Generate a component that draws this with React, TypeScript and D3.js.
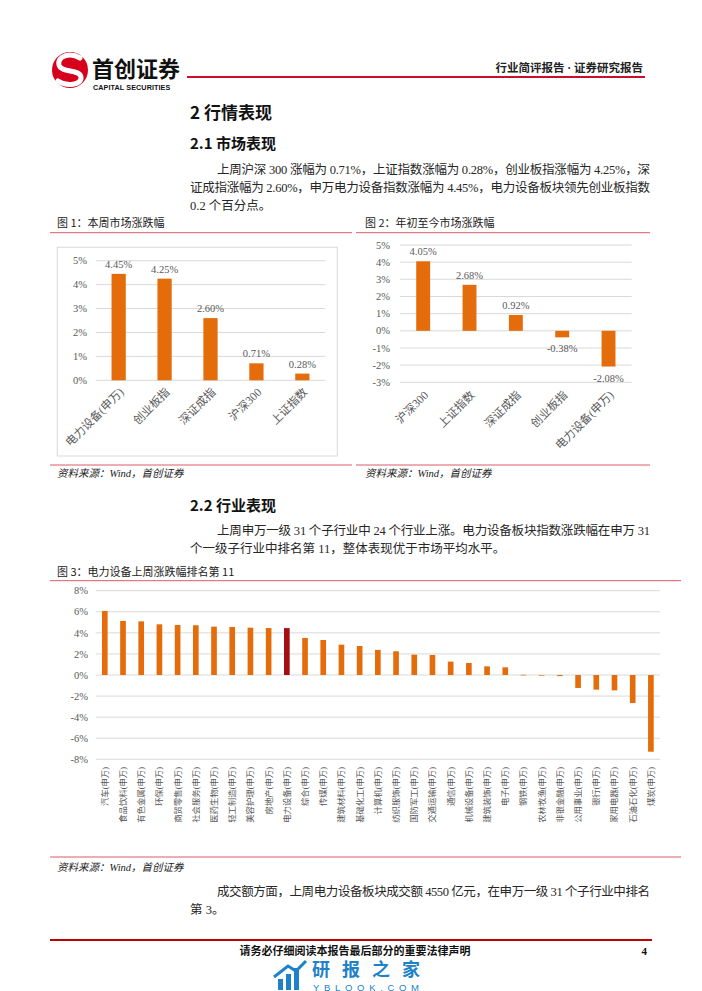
import React from 'react';
import * as d3 from 'd3';

const weekCats = ['电力设备(申万)', '创业板指', '深证成指', '沪深300', '上证指数'];
const weekVals = [4.45, 4.25, 2.6, 0.71, 0.28];
const weekTicks = [0, 1, 2, 3, 4, 5];

const ytdCats = ['沪深300', '上证指数', '深证成指', '创业板指', '电力设备(申万)'];
const ytdVals = [4.05, 2.68, 0.92, -0.38, -2.08];
const ytdTicks = [-3, -2, -1, 0, 1, 2, 3, 4, 5];

const industryNames = [
  '汽车(申万)', '食品饮料(申万)', '有色金属(申万)', '环保(申万)', '商贸零售(申万)', '社会服务(申万)',
  '医药生物(申万)', '轻工制造(申万)', '美容护理(申万)', '房地产(申万)', '电力设备(申万)', '综合(申万)',
  '传媒(申万)', '建筑材料(申万)', '基础化工(申万)', '计算机(申万)', '纺织服饰(申万)', '国防军工(申万)',
  '交通运输(申万)', '通信(申万)', '机械设备(申万)', '建筑装饰(申万)', '电子(申万)', '钢铁(申万)',
  '农林牧渔(申万)', '非银金融(申万)', '公用事业(申万)', '银行(申万)', '家用电器(申万)', '石油石化(申万)',
  '煤炭(申万)'
];
const industryVals = [
  6.08, 5.13, 5.09, 4.81, 4.75, 4.72, 4.59, 4.56, 4.49, 4.46, 4.45, 3.51, 3.32, 2.88, 2.75, 2.38,
  2.25, 1.93, 1.9, 1.27, 1.14, 0.82, 0.73, 0.02, -0.05, -0.1, -1.23, -1.39, -1.46, -2.66, -7.28
];
const industryTicks = [-8, -6, -4, -2, 0, 2, 4, 6, 8];
const highlightName = '电力设备(申万)';

const MIX = "'Liberation Serif','Noto Sans CJK SC',serif";
const SANS = "'Noto Sans CJK SC','Noto Sans',sans-serif";
const ORANGE = '#E46C0A';
const DARK = '#A50F0F';
const GRID = '#D9D9D9';
const AXIS_TXT = '#595959';
const PINK = '#DC5A66';

const pct = (v: number) => `${v.toFixed(2)}%`;

function Chart1() {
  const x = d3.scaleBand<string>().domain(weekCats).range([95.7, 325.3]);
  const y = d3.scaleLinear().domain([0, 5]).range([380.3, 260.7]);
  const bw = x.bandwidth() * 0.31;
  return (
    <g>
      <rect x={57.3} y={247.3} width={280} height={208.7} fill="none" stroke={GRID} strokeWidth={1} />
      {weekTicks.map((t) => (
        <g key={t}>
          <line x1={95.7} x2={325.3} y1={y(t)} y2={y(t)} stroke={GRID} strokeWidth={1} />
          <text x={87} y={y(t)} dy="0.35em" textAnchor="end" fontSize={10.5} fill={AXIS_TXT} fontFamily={MIX}>{`${t}%`}</text>
        </g>
      ))}
      {weekCats.map((c, i) => {
        const cx = (x(c) as number) + x.bandwidth() / 2;
        const v = weekVals[i];
        return (
          <g key={c}>
            <rect x={cx - bw / 2} y={y(v)} width={bw} height={y(0) - y(v)} fill={ORANGE} />
            <text x={cx} y={y(v) - 6} textAnchor="middle" fontSize={10.5} fill={AXIS_TXT} fontFamily={MIX}>{pct(v)}</text>
            <text x={cx + 3} y={390} dy="0.35em" textAnchor="end" transform={`rotate(-45, ${cx + 3}, 390)`} fontSize={11.5} fill={AXIS_TXT} fontFamily={MIX}>{c}</text>
          </g>
        );
      })}
    </g>
  );
}

function Chart2() {
  const x = d3.scaleBand<string>().domain(ytdCats).range([400, 631.7]);
  const y = d3.scaleLinear().domain([-3, 5]).range([382.3, 245]);
  const bw = x.bandwidth() * 0.3;
  return (
    <g>
      {ytdTicks.map((t) => (
        <g key={t}>
          <line x1={400} x2={631.7} y1={y(t)} y2={y(t)} stroke={GRID} strokeWidth={1} />
          <text x={390} y={y(t)} dy="0.35em" textAnchor="end" fontSize={10.5} fill={AXIS_TXT} fontFamily={MIX}>{`${t}%`}</text>
        </g>
      ))}
      {ytdCats.map((c, i) => {
        const cx = (x(c) as number) + x.bandwidth() / 2;
        const v = ytdVals[i];
        const top = y(Math.max(0, v));
        const bot = y(Math.min(0, v));
        return (
          <g key={c}>
            <rect x={cx - bw / 2} y={top} width={bw} height={bot - top} fill={ORANGE} />
            <text x={cx} y={v >= 0 ? top - 6 : bot + 15} textAnchor="middle" fontSize={10.5} fill={AXIS_TXT} fontFamily={MIX}>{pct(v)}</text>
            <text x={cx + 3} y={393} dy="0.35em" textAnchor="end" transform={`rotate(-45, ${cx + 3}, 393)`} fontSize={11.5} fill={AXIS_TXT} fontFamily={MIX}>{c}</text>
          </g>
        );
      })}
    </g>
  );
}

function Chart3() {
  const x = d3.scaleBand<string>().domain(industryNames).range([95.7, 660]);
  const y = d3.scaleLinear().domain([-8, 8]).range([759.3, 590.7]);
  const bw = x.bandwidth() * 0.31;
  return (
    <g>
      {industryTicks.map((t) => (
        <g key={t}>
          <line x1={95.7} x2={660} y1={y(t)} y2={y(t)} stroke={GRID} strokeWidth={1} />
          <text x={88} y={y(t)} dy="0.35em" textAnchor="end" fontSize={10.5} fill={AXIS_TXT} fontFamily={MIX}>{`${t}%`}</text>
        </g>
      ))}
      {industryNames.map((c, i) => {
        const cx = (x(c) as number) + x.bandwidth() / 2;
        const v = industryVals[i];
        const top = y(Math.max(0, v));
        const bot = y(Math.min(0, v));
        return (
          <g key={c}>
            <rect x={cx - bw / 2} y={top} width={bw} height={Math.max(0.6, bot - top)} fill={c === highlightName ? DARK : ORANGE} />
            <text x={cx} y={767} dy="0.35em" textAnchor="end" transform={`rotate(-90, ${cx}, 767)`} fontSize={8.4} fill={AXIS_TXT} fontFamily={MIX}>{c}</text>
          </g>
        );
      })}
    </g>
  );
}

function Para({ lines }: { lines: { t: string; x: number; y: number; full?: boolean }[] }) {
  return (
    <g>
      {lines.map((l, i) => (
        <text key={i} x={l.x} y={l.y} fontSize={12.5} fill="#262626" fontFamily={MIX}
          {...(l.full ? { textLength: 650 - l.x, lengthAdjust: 'spacing' } : {})}>{l.t}</text>
      ))}
    </g>
  );
}

export default function App() {
  return (
    <svg width={702} height={991} viewBox="0 0 702 991" style={{ position: 'absolute', left: 0, top: 0, background: '#fff' }}>
      <rect x={0} y={0} width={702} height={991} fill="#fff" />
      {/* header */}
      <g>
        <circle cx={70} cy={70} r={18} fill="#D7001D" />
        <path d="M80 58 C70 52, 57 56, 59 65 C61 73, 80 69, 81 77 C82 85, 67 87, 58 81" fill="none" stroke="#fff" strokeWidth={5} strokeLinecap="round" />
        <text x={92} y={77} fontSize={22} fontWeight="bold" fill="#111" fontFamily={SANS}>首创证券</text>
        <text x={93} y={90} fontSize={7.2} fontWeight="bold" fill="#111" fontFamily="'Liberation Sans',Arial,sans-serif" letterSpacing={0.1}>CAPITAL SECURITIES</text>
        <line x1={187} x2={645} y1={77} y2={77} stroke="#C8102E" strokeWidth={2} />
        <text x={643} y={72} textAnchor="end" fontSize={11.5} fontWeight="bold" fill="#222" fontFamily={MIX}>行业简评报告 · 证券研究报告</text>
      </g>

      <text x={190} y={119} fontSize={17} fontWeight="bold" fill="#111" fontFamily={SANS}>2 行情表现</text>
      <text x={190} y={148.5} fontSize={15} fontWeight="bold" fill="#111" fontFamily={SANS}>2.1 市场表现</text>
      <Para lines={[
        { t: '上周沪深 300 涨幅为 0.71%，上证指数涨幅为 0.28%，创业板指涨幅为 4.25%，深', x: 217, y: 173.5, full: true },
        { t: '证成指涨幅为 2.60%，申万电力设备指数涨幅为 4.45%，电力设备板块领先创业板指数', x: 190, y: 191.5, full: true },
        { t: '0.2 个百分点。', x: 190, y: 209.5 },
      ]} />

      {/* figure 1 & 2 titles */}
      <text x={57} y={226.5} fontSize={11} fill="#222" fontFamily={SANS}>图 1：本周市场涨跌幅</text>
      <line x1={50} x2={352} y1={232.7} y2={232.7} stroke={PINK} strokeWidth={1} />
      <text x={365} y={226.5} fontSize={11} fill="#222" fontFamily={SANS}>图 2：年初至今市场涨跌幅</text>
      <line x1={356} x2={650} y1={232.7} y2={232.7} stroke={PINK} strokeWidth={1} />
      <Chart1 />
      <Chart2 />
      <line x1={50} x2={352} y1={465} y2={465} stroke={PINK} strokeWidth={1} />
      <line x1={356} x2={650} y1={465} y2={465} stroke={PINK} strokeWidth={1} />
      <text x={57} y={477} fontSize={10.5} fontStyle="italic" fill="#222" fontFamily={MIX}>资料来源：Wind，首创证券</text>
      <text x={365} y={477} fontSize={10.5} fontStyle="italic" fill="#222" fontFamily={MIX}>资料来源：Wind，首创证券</text>

      <text x={190} y={510.5} fontSize={15} fontWeight="bold" fill="#111" fontFamily={SANS}>2.2 行业表现</text>
      <Para lines={[
        { t: '上周申万一级 31 个子行业中 24 个行业上涨。电力设备板块指数涨跌幅在申万 31', x: 217, y: 534.5, full: true },
        { t: '个一级子行业中排名第 11，整体表现优于市场平均水平。', x: 190, y: 552.5 },
      ]} />

      <text x={57} y={576} fontSize={11} fill="#222" fontFamily={SANS}>图 3：电力设备上周涨跌幅排名第 11</text>
      <line x1={50} x2={681} y1={580.7} y2={580.7} stroke={PINK} strokeWidth={1} />
      <Chart3 />
      <line x1={50} x2={681} y1={857} y2={857} stroke={PINK} strokeWidth={1} />
      <text x={57} y={871} fontSize={10.5} fontStyle="italic" fill="#222" fontFamily={MIX}>资料来源：Wind，首创证券</text>

      <Para lines={[
        { t: '成交额方面，上周电力设备板块成交额 4550 亿元，在申万一级 31 个子行业中排名', x: 217, y: 895.5, full: true },
        { t: '第 3。', x: 190, y: 913.5 },
      ]} />

      {/* footer */}
      <line x1={50} x2={652} y1={940} y2={940} stroke="#C00000" strokeWidth={2} />
      <text x={355} y={955} textAnchor="middle" fontSize={11} fontWeight="bold" fill="#111" fontFamily={MIX}>请务必仔细阅读本报告最后部分的重要法律声明</text>
      <text x={647} y={955} textAnchor="end" fontSize={11} fontWeight="bold" fill="#111" fontFamily={MIX}>4</text>

      {/* watermark */}
      <g fill="#1E82C8">
        <rect x={278} y={979} width={5} height={11} />
        <rect x={286} y={974} width={5} height={16} />
        <rect x={294} y={968} width={5} height={22} />
        <path d="M274 977 L288 966 L296 971 L306 961" fill="none" stroke="#1E82C8" strokeWidth={3} />
        <text x={312} y={976} fontSize={18} fontWeight="bold" fontFamily={SANS} textLength={108} lengthAdjust="spacing">研报之家</text>
        <text x={313} y={990.5} fontSize={9.5} fontFamily="'Liberation Sans',Arial,sans-serif" textLength={106} lengthAdjust="spacing">YBLOOK.COM</text>
      </g>
    </svg>
  );
}
